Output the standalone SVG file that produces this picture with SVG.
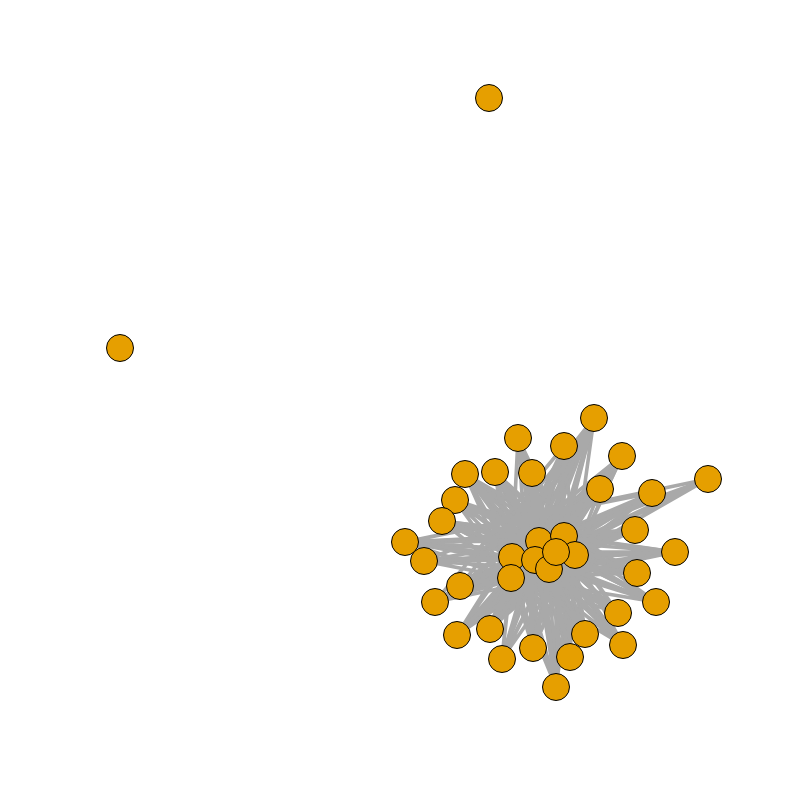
<svg xmlns="http://www.w3.org/2000/svg" width="800" height="800" viewBox="0 0 800 800">
<style>
.e{fill:none;stroke:#a9a9a9;stroke-width:3.6}
.n circle{fill:#e69f00;stroke:#000;stroke-width:1}
</style>
<rect width="800" height="800" fill="#fff"/>
<g id="edges">
<path class="e" d="M594 418L512 557M594 418L511 578M594 418L539 541M594 418L564 536M594 418L575 555M594 418L535 560M594 418L549 569M594 418L556 552"/>
<path class="e" d="M518 438L512 557M518 438L511 578M518 438L539 541M518 438L564 536M518 438L575 555M518 438L535 560M518 438L549 569M518 438L556 552"/>
<path class="e" d="M564 446L512 557M564 446L511 578M564 446L539 541M564 446L564 536M564 446L575 555M564 446L535 560M564 446L549 569M564 446L556 552"/>
<path class="e" d="M622 456L512 557M622 456L511 578M622 456L539 541M622 456L564 536M622 456L575 555M622 456L535 560M622 456L549 569M622 456L556 552"/>
<path class="e" d="M465 474L512 557M465 474L511 578M465 474L539 541M465 474L564 536M465 474L575 555M465 474L535 560M465 474L549 569M465 474L556 552"/>
<path class="e" d="M495 472L512 557M495 472L511 578M495 472L539 541M495 472L564 536M495 472L575 555M495 472L535 560M495 472L549 569M495 472L556 552"/>
<path class="e" d="M532 473L512 557M532 473L511 578M532 473L539 541M532 473L564 536M532 473L575 555M532 473L535 560M532 473L549 569M532 473L556 552"/>
<path class="e" d="M600 489L512 557M600 489L511 578M600 489L539 541M600 489L564 536M600 489L575 555M600 489L535 560M600 489L549 569M600 489L556 552"/>
<path class="e" d="M652 493L512 557M652 493L511 578M652 493L539 541M652 493L564 536M652 493L575 555M652 493L535 560M652 493L549 569M652 493L556 552"/>
<path class="e" d="M708 479L512 557M708 479L511 578M708 479L539 541M708 479L564 536M708 479L575 555M708 479L535 560M708 479L549 569M708 479L556 552"/>
<path class="e" d="M455 500L512 557M455 500L511 578M455 500L539 541M455 500L564 536M455 500L575 555M455 500L535 560M455 500L549 569M455 500L556 552"/>
<path class="e" d="M442 521L512 557M442 521L511 578M442 521L539 541M442 521L564 536M442 521L575 555M442 521L535 560M442 521L549 569M442 521L556 552"/>
<path class="e" d="M635 530L512 557M635 530L511 578M635 530L539 541M635 530L564 536M635 530L575 555M635 530L535 560M635 530L549 569M635 530L556 552"/>
<path class="e" d="M405 542L512 557M405 542L511 578M405 542L539 541M405 542L564 536M405 542L575 555M405 542L535 560M405 542L549 569M405 542L556 552"/>
<path class="e" d="M424 561L512 557M424 561L511 578M424 561L539 541M424 561L564 536M424 561L575 555M424 561L535 560M424 561L549 569M424 561L556 552"/>
<path class="e" d="M675 552L512 557M675 552L511 578M675 552L539 541M675 552L564 536M675 552L575 555M675 552L535 560M675 552L549 569M675 552L556 552"/>
<path class="e" d="M460 586L512 557M460 586L511 578M460 586L539 541M460 586L564 536M460 586L575 555M460 586L535 560M460 586L549 569M460 586L556 552"/>
<path class="e" d="M637 573L512 557M637 573L511 578M637 573L539 541M637 573L564 536M637 573L575 555M637 573L535 560M637 573L549 569M637 573L556 552"/>
<path class="e" d="M435 602L512 557M435 602L511 578M435 602L539 541M435 602L564 536M435 602L575 555M435 602L535 560M435 602L549 569M435 602L556 552"/>
<path class="e" d="M656 602L512 557M656 602L511 578M656 602L539 541M656 602L564 536M656 602L575 555M656 602L535 560M656 602L549 569M656 602L556 552"/>
<path class="e" d="M618 613L512 557M618 613L511 578M618 613L539 541M618 613L564 536M618 613L575 555M618 613L535 560M618 613L549 569M618 613L556 552"/>
<path class="e" d="M457 635L512 557M457 635L511 578M457 635L539 541M457 635L564 536M457 635L575 555M457 635L535 560M457 635L549 569M457 635L556 552"/>
<path class="e" d="M490 629L512 557M490 629L511 578M490 629L539 541M490 629L564 536M490 629L575 555M490 629L535 560M490 629L549 569M490 629L556 552"/>
<path class="e" d="M585 634L512 557M585 634L511 578M585 634L539 541M585 634L564 536M585 634L575 555M585 634L535 560M585 634L549 569M585 634L556 552"/>
<path class="e" d="M623 645L512 557M623 645L511 578M623 645L539 541M623 645L564 536M623 645L575 555M623 645L535 560M623 645L549 569M623 645L556 552"/>
<path class="e" d="M533 648L512 557M533 648L511 578M533 648L539 541M533 648L564 536M533 648L575 555M533 648L535 560M533 648L549 569M533 648L556 552"/>
<path class="e" d="M502 659L512 557M502 659L511 578M502 659L539 541M502 659L564 536M502 659L575 555M502 659L535 560M502 659L549 569M502 659L556 552"/>
<path class="e" d="M570 657L512 557M570 657L511 578M570 657L539 541M570 657L564 536M570 657L575 555M570 657L535 560M570 657L549 569M570 657L556 552"/>
<path class="e" d="M556 687L512 557M556 687L511 578M556 687L539 541M556 687L564 536M556 687L575 555M556 687L535 560M556 687L549 569M556 687L556 552"/>
<path class="e" d="M594 418L490 629M594 418L533 648M594 418L457 635M594 418L460 586M594 418L502 659M518 438L556 687M518 438L570 657M518 438L585 634M564 446L502 659M564 446L435 602M564 446L490 629M622 456L460 586M622 456L490 629M622 456L533 648M465 474L618 613M465 474L585 634M465 474L637 573M495 472L623 645M495 472L556 687M532 473L556 687M532 473L533 648M600 489L424 561M600 489L435 602M600 489L457 635M652 493L405 542M652 493L460 586M708 479L405 542M455 500L637 573M455 500L656 602M442 521L675 552M442 521L618 613M635 530L405 542M635 530L435 602M424 561L675 552M675 552L435 602M637 573L405 542M656 602L442 521M618 613L455 500M457 635L652 493M585 634L495 472M623 645L465 474M570 657L532 473M556 687L564 446M502 659L594 418M490 629L564 446M533 648L518 438"/>
</g>
<g id="n1" class="n"><circle cx="489" cy="98" r="13.5"/></g>
<g id="n2" class="n"><circle cx="120" cy="348" r="13.5"/></g>
<g id="n3" class="n"><circle cx="594" cy="418" r="13.5"/></g>
<g id="n4" class="n"><circle cx="518" cy="438" r="13.5"/></g>
<g id="n5" class="n"><circle cx="564" cy="446" r="13.5"/></g>
<g id="n6" class="n"><circle cx="622" cy="456" r="13.5"/></g>
<g id="n7" class="n"><circle cx="465" cy="474" r="13.5"/></g>
<g id="n8" class="n"><circle cx="495" cy="472" r="13.5"/></g>
<g id="n9" class="n"><circle cx="532" cy="473" r="13.5"/></g>
<g id="n10" class="n"><circle cx="600" cy="489" r="13.5"/></g>
<g id="n11" class="n"><circle cx="652" cy="493" r="13.5"/></g>
<g id="n12" class="n"><circle cx="708" cy="479" r="13.5"/></g>
<g id="n13" class="n"><circle cx="455" cy="500" r="13.5"/></g>
<g id="n14" class="n"><circle cx="442" cy="521" r="13.5"/></g>
<g id="n15" class="n"><circle cx="635" cy="530" r="13.5"/></g>
<g id="n16" class="n"><circle cx="405" cy="542" r="13.5"/></g>
<g id="n17" class="n"><circle cx="424" cy="561" r="13.5"/></g>
<g id="n18" class="n"><circle cx="675" cy="552" r="13.5"/></g>
<g id="n19" class="n"><circle cx="460" cy="586" r="13.5"/></g>
<g id="n20" class="n"><circle cx="637" cy="573" r="13.5"/></g>
<g id="n21" class="n"><circle cx="435" cy="602" r="13.5"/></g>
<g id="n22" class="n"><circle cx="656" cy="602" r="13.5"/></g>
<g id="n23" class="n"><circle cx="618" cy="613" r="13.5"/></g>
<g id="n24" class="n"><circle cx="457" cy="635" r="13.5"/></g>
<g id="n25" class="n"><circle cx="490" cy="629" r="13.5"/></g>
<g id="n26" class="n"><circle cx="585" cy="634" r="13.5"/></g>
<g id="n27" class="n"><circle cx="623" cy="645" r="13.5"/></g>
<g id="n28" class="n"><circle cx="533" cy="648" r="13.5"/></g>
<g id="n29" class="n"><circle cx="502" cy="659" r="13.5"/></g>
<g id="n30" class="n"><circle cx="570" cy="657" r="13.5"/></g>
<g id="n31" class="n"><circle cx="556" cy="687" r="13.5"/></g>
<g id="n32" class="n"><circle cx="512" cy="557" r="13.5"/></g>
<g id="n33" class="n"><circle cx="511" cy="578" r="13.5"/></g>
<g id="n34" class="n"><circle cx="539" cy="541" r="13.5"/></g>
<g id="n35" class="n"><circle cx="564" cy="536" r="13.5"/></g>
<g id="n36" class="n"><circle cx="575" cy="555" r="13.5"/></g>
<g id="n37" class="n"><circle cx="535" cy="560" r="13.5"/></g>
<g id="n38" class="n"><circle cx="549" cy="569" r="13.5"/></g>
<g id="n39" class="n"><circle cx="556" cy="552" r="13.5"/></g>
</svg>
